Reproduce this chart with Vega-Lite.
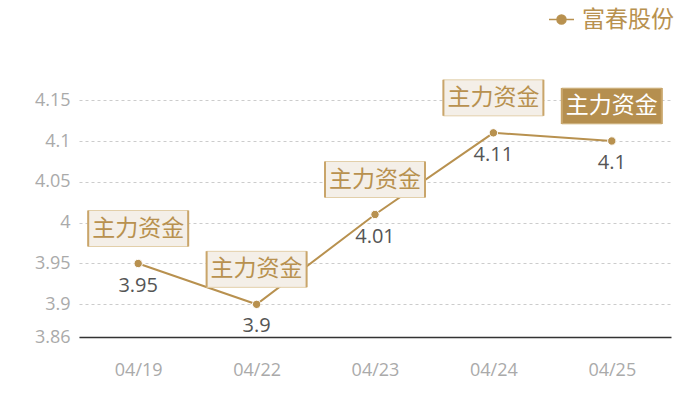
{
  "$schema": "https://vega.github.io/schema/vega-lite/v6.json",
  "autosize": "none",
  "width": 592,
  "height": 245,
  "padding": {"left": 79, "top": 92, "right": 29, "bottom": 63},
  "background": "white",
  "config": {"font": "Open Sans, Noto Sans CJK SC", "view": {"stroke": null}},
  "data": {"values": [
    {"date": "04/19", "price": 3.95, "stock": "富春股份", "tag": "主力资金"},
    {"date": "04/22", "price": 3.9, "stock": "富春股份", "tag": "主力资金"},
    {"date": "04/23", "price": 4.01, "stock": "富春股份", "tag": "主力资金"},
    {"date": "04/24", "price": 4.11, "stock": "富春股份", "tag": "主力资金"},
    {"date": "04/25", "price": 4.1, "stock": "富春股份", "tag": "主力资金"}
  ]},
  "encoding": {
    "x": {"field": "date", "type": "ordinal", "axis": {"title": null, "labelAngle": 0, "tickSize": 0, "labelPadding": 24, "labelColor": "#aaaaaa", "labelFontSize": 18, "domainColor": "#333333", "domainWidth": 1.5, "grid": false}},
    "y": {"field": "price", "type": "quantitative", "scale": {"domain": [3.86, 4.16], "nice": false, "zero": false}, "axis": {"title": null, "values": [3.86, 3.9, 3.95, 4, 4.05, 4.1, 4.15], "format": "~g", "grid": true, "gridDash": [3, 3], "gridColor": "#cccccc", "domain": false, "ticks": false, "labelPadding": 9, "labelFontSize": 18, "labelColor": "#aaaaaa"}}
  },
  "layer": [
    {
      "mark": {"type": "line", "strokeWidth": 2},
      "encoding": {
        "color": {"field": "stock", "type": "nominal", "scale": {"range": ["#b8914f"]}, "legend": {"orient": "none", "legendX": 469, "legendY": -86, "title": null, "padding": 0, "symbolType": "M-1,0H1M-0.36,0A0.36,0.36,0,1,0,0.36,0A0.36,0.36,0,1,0,-0.36,0Z", "symbolSize": 625, "symbolStrokeWidth": 1.5, "symbolFillColor": "#b8914f", "symbolStrokeColor": "#b8914f", "labelFont": "Noto Sans CJK SC", "labelFontSize": 23, "labelColor": "#b8914f", "labelOffset": 7}}
      }
    },
    {
      "mark": {"type": "point", "filled": true, "size": 70, "color": "#b8914f", "stroke": "white", "strokeWidth": 1, "opacity": 1}
    },
    {
      "mark": {"type": "text", "yOffset": 22, "fontSize": 20, "color": "#555555"},
      "encoding": {"text": {"field": "price", "type": "nominal"}}
    },
    {
      "mark": {"type": "point", "shape": "M-1,-0.36H1V0.36H-1Z", "size": 10000, "yOffset": -35, "filled": false, "strokeWidth": 1, "stroke": "#e2cfaa", "opacity": 1},
      "encoding": {
        "fill": {"condition": {"test": "datum.date === '04/25'", "value": "#b58f4f"}, "value": "#f4efe8"}
      }
    },
    {
      "mark": {"type": "point", "shape": "M-1,-0.36V0.36M1,-0.36V0.36", "size": 10000, "yOffset": -35, "filled": false, "strokeWidth": 2, "stroke": "#c9a56a", "opacity": 1}
    },
    {
      "mark": {"type": "text", "yOffset": -35, "fontSize": 23, "font": "Noto Sans CJK SC"},
      "encoding": {
        "text": {"field": "tag", "type": "nominal"},
        "color": {"condition": {"test": "datum.date === '04/25'", "value": "#ffffff"}, "value": "#b8914f"}
      }
    }
  ]
}
